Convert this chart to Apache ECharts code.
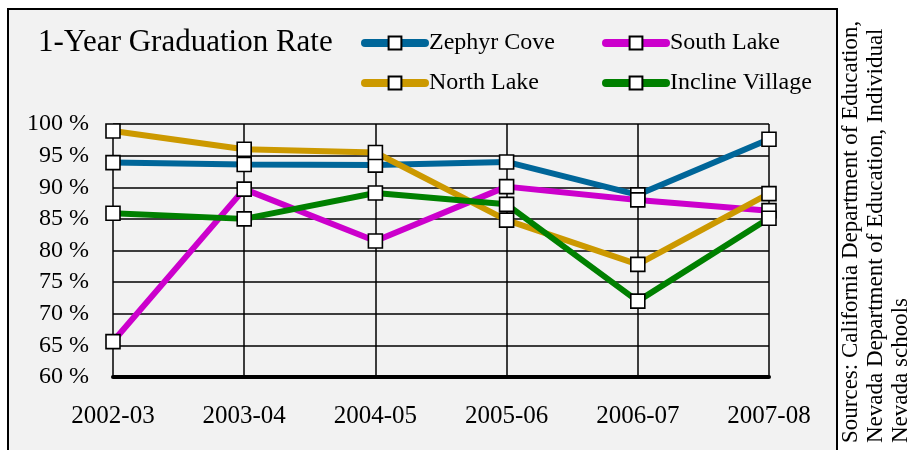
<!DOCTYPE html>
<html>
<head>
<meta charset="utf-8">
<script src="https://cdn.jsdelivr.net/npm/echarts@6/dist/echarts.min.js"></script>
<style>
  html, body { margin: 0; padding: 0; background: #fff; }
  #chart { width: 918px; height: 450px; }
</style>
</head>
<body>
<div id="chart"></div>
<script>
// school years
const years = ['2002-03', '2003-04', '2004-05', '2005-06', '2006-07', '2007-08']
// graduation rate, percent
const zephyrCove = [93.9, 93.6, 93.5, 94.0, 88.8, 97.6]
const southLake = [65.6, 89.7, 81.5, 90.1, 88.0, 86.3]
const northLake = [98.9, 96.0, 95.5, 84.8, 77.8, 89.0]
const inclineVillage = [85.9, 85.0, 89.1, 87.3, 72.0, 85.1]
const yTicks = { min: 60, max: 100, step: 5 }

const serif = 'Liberation Serif'
const marker = {
  symbol: 'rect',
  symbolSize: 14,
  showAllSymbol: true,
  itemStyle: { color: '#fff', borderColor: '#000', borderWidth: 1.6 }
}

function mkSeries (name, data, color) {
  return {
    name,
    type: 'line',
    data,
    ...marker,
    lineStyle: { color, width: 6 },
    emphasis: { disabled: true }
  }
}

// legend: thick rounded bar with the square marker in the middle
const legendBase = {
  orient: 'vertical',
  padding: 0,
  itemWidth: 60,
  itemHeight: 16,
  itemGap: 16,
  textStyle: { fontFamily: serif, fontSize: 24, color: '#000', padding: [0, 0, 0, -1] },
  lineStyle: { width: 8, cap: 'round' },
  selectedMode: false
}

const chart = echarts.init(document.getElementById('chart'))
chart.setOption({
  backgroundColor: '#fff',
  animation: false,
  graphic: [
    {
      type: 'rect',
      shape: { x: 8, y: 9, width: 829, height: 460 },
      style: { fill: '#f2f2f2', stroke: '#000', lineWidth: 2 },
      z: -10
    },
    {
      type: 'text',
      x: 838,
      y: 443,
      rotation: Math.PI / 2,
      style: {
        text: 'Sources: California Department of Education,\nNevada Department of Education, Individual\nNevada schools',
        fontFamily: serif,
        fontSize: 23,
        lineHeight: 25,
        fill: '#000',
        textAlign: 'left',
        textVerticalAlign: 'top'
      }
    }
  ],
  title: {
    text: '1-Year Graduation Rate',
    left: 33,
    top: 22,
    textStyle: { fontFamily: serif, fontSize: 31, fontWeight: 'normal', color: '#000' }
  },
  legend: [
    { ...legendBase, left: 361, top: 31, data: ['Zephyr Cove', 'North Lake'] },
    { ...legendBase, left: 602, top: 31, data: ['South Lake', 'Incline Village'] }
  ],
  grid: { left: 113, right: 149, top: 124, bottom: 73 },
  xAxis: {
    type: 'category',
    data: years,
    boundaryGap: false,
    axisLine: { show: true, lineStyle: { color: '#000', width: 4 } },
    axisTick: { show: false },
    axisLabel: { fontFamily: serif, fontSize: 25, color: '#000', margin: 27 },
    splitLine: { show: true, lineStyle: { color: '#000', width: 1.5 } }
  },
  yAxis: {
    type: 'value',
    min: yTicks.min,
    max: yTicks.max,
    interval: yTicks.step,
    axisLine: { show: false },
    axisTick: { show: false },
    axisLabel: { formatter: '{value} %', fontFamily: serif, fontSize: 24, color: '#000', margin: 24 },
    splitLine: { lineStyle: { color: '#000', width: 1.5 } }
  },
  series: [
    mkSeries('Zephyr Cove', zephyrCove, '#006699'),
    mkSeries('South Lake', southLake, '#cc00cc'),
    mkSeries('North Lake', northLake, '#cc9900'),
    mkSeries('Incline Village', inclineVillage, '#008000')
  ]
})
</script>
</body>
</html>
